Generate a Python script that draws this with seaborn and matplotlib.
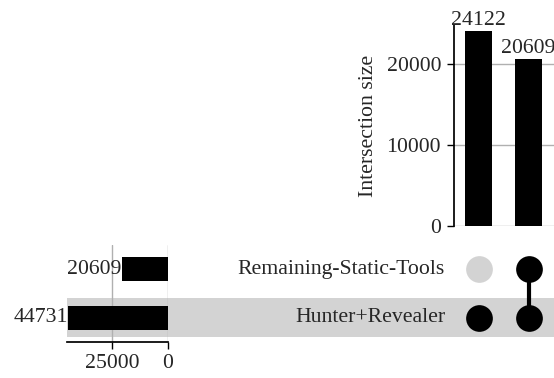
import matplotlib
matplotlib.use("Agg")
import matplotlib.pyplot as plt
import seaborn as sb
import pandas as pd

# UpSet-style chart: set totals, intersection sizes and membership matrix
set_names = ["Remaining-Static-Tools", "Hunter+Revealer"]
set_totals = [20609, 44731]
inter_ids = ["Hunter+Revealer", "both"]
inter_sizes = [24122, 20609]
# membership[i][j]: is set i part of intersection j
membership = [[False, True],
              [True, True]]

sb.set_theme(style="white")
plt.rcParams["font.family"] = ["Liberation Serif", "DejaVu Serif"]
FS = 15.7

W, H = 554, 378
fig = plt.figure(figsize=(W / 100, H / 100), dpi=100)


def box(x0, y0, x1, y1):
    # pixel box (top-left origin) -> figure fraction
    return [x0 / W, 1 - y1 / H, (x1 - x0) / W, (y1 - y0) / H]


grey = "#b0b0b0"
shade = "#d3d3d3"

# background rows with shading and set labels
ax_rows = fig.add_axes(box(67, 245, 554, 342))
ax_rows.set_xlim(0, 1)
ax_rows.set_ylim(1.5, -0.5)
ax_rows.axis("off")
for i, name in enumerate(set_names):
    if i % 2 == 1:
        ax_rows.axhspan(i - 0.4, i + 0.4, color=shade, lw=0, zorder=0)
    ax_rows.text((445 - 67) / (554 - 67), i, name, ha="right", va="center", fontsize=FS)

# set totals (horizontal, inverted)
ax_tot = fig.add_axes(box(67, 245, 168, 342))
ax_tot.patch.set_alpha(0)
df_tot = pd.DataFrame({"set": set_names, "total": set_totals})
sb.barplot(data=df_tot, x="total", y="set", order=set_names, color="black",
           saturation=1, width=0.5, linewidth=0, ax=ax_tot, zorder=3)
ax_tot.set_xlim(45100, 0)
ax_tot.set_ylim(1.5, -0.5)
ax_tot.set_xticks([25000, 0])
ax_tot.set_yticks([])
ax_tot.set_xlabel("")
ax_tot.set_ylabel("")
ax_tot.xaxis.grid(True, color=grey, lw=1)
ax_tot.yaxis.grid(False)
for s in ["top", "left", "right"]:
    ax_tot.spines[s].set_visible(False)
ax_tot.spines["bottom"].set_color("black")
ax_tot.tick_params(axis="x", bottom=True, length=5, width=1, color="black", labelsize=FS, pad=4)
for i, v in enumerate(set_totals):
    ax_tot.text(v, i, str(v), ha="right", va="center", fontsize=FS, clip_on=False)

# intersection sizes
ax_int = fig.add_axes(box(453.5, 25, 553.5, 226))
ax_int.patch.set_alpha(0)
df_int = pd.DataFrame({"inter": inter_ids, "size": inter_sizes})
sb.barplot(data=df_int, x="inter", y="size", order=inter_ids, color="black",
           saturation=1, width=0.54, linewidth=0, ax=ax_int, zorder=3)
ax_int.set_xlim(-0.5, 1.5)
ax_int.set_ylim(0, 24850)
ax_int.set_yticks([0, 10000, 20000])
ax_int.set_xticks([])
ax_int.set_xlabel("")
ax_int.set_ylabel("Intersection size", fontsize=FS, labelpad=6)
ax_int.yaxis.grid(True, color=grey, lw=1)
for s in ["top", "bottom", "right"]:
    ax_int.spines[s].set_visible(False)
ax_int.spines["left"].set_color("black")
ax_int.tick_params(axis="y", left=True, length=5, width=1, color="black", labelsize=FS, pad=4)
for j, v in enumerate(inter_sizes):
    ax_int.text(j, v + 150, str(v), ha="center", va="bottom", fontsize=FS, clip_on=False)

# membership matrix
ax_mat = fig.add_axes(box(453.5, 245, 553.5, 342))
ax_mat.patch.set_alpha(0)
ax_mat.set_xlim(-0.5, 1.5)
ax_mat.set_ylim(1.5, -0.5)
ax_mat.axis("off")
for j in range(len(inter_ids)):
    rows_in = [i for i in range(len(set_names)) if membership[i][j]]
    for i in range(len(set_names)):
        ax_mat.scatter(j, i, s=370, color="black" if membership[i][j] else shade,
                       zorder=3, linewidths=0)
    if len(rows_in) > 1:
        ax_mat.plot([j, j], [min(rows_in), max(rows_in)], color="black", lw=3, zorder=2)

fig.savefig("out.png", dpi=100)
